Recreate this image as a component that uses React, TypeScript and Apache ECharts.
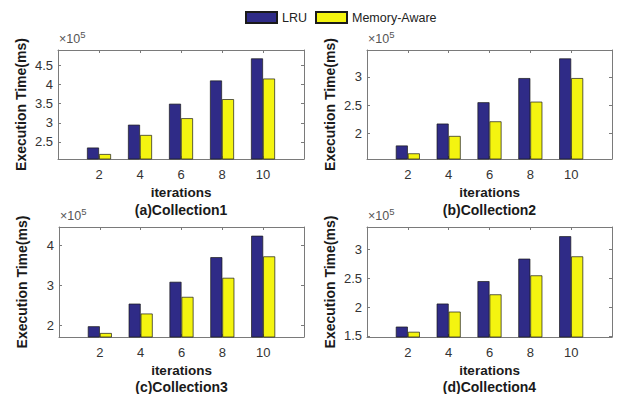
import React, { useEffect, useRef } from "react";
import * as echarts from "echarts";

const iterations = ["2", "4", "6", "8", "10"];
const seriesNames = ["LRU", "Memory-Aware"];

const lru1 = [235000, 295000, 350000, 411000, 469000];
const mem1 = [218000, 268000, 312000, 362000, 416000];
const lru2 = [178000, 217000, 255000, 298000, 333000];
const mem2 = [164000, 195000, 221000, 256000, 298000];
const lru3 = [197000, 254000, 309000, 371000, 425000];
const mem3 = [180000, 229000, 271000, 319000, 373000];
const lru4 = [166000, 206000, 245000, 284000, 323000];
const mem4 = [157000, 192000, 222000, 255000, 288000];

const yTicks1 = [250000, 300000, 350000, 400000, 450000];
const yTicks2 = [200000, 250000, 300000];
const yTicks3 = [200000, 300000, 400000];
const yTicks4 = [150000, 200000, 250000, 300000];

const yRange1 = [205000, 491000];
const yRange2 = [154000, 348000];
const yRange3 = [170000, 447000];
const yRange4 = [148000, 339000];

const titles = ["(a)Collection1", "(b)Collection2", "(c)Collection3", "(d)Collection4"];

const FONT = "'Liberation Sans', Arial, Helvetica, sans-serif";
const AXIS_COLOR = "#7a7a7a";
const LABEL_COLOR = "#333";
const LRU_COLOR = "#2f2b87";
const MEM_COLOR = "#f4f410";

const panels = [
  { lru: lru1, mem: mem1, ticks: yTicks1, range: yRange1, grid: { left: 58, top: 50, width: 246, height: 109 } },
  { lru: lru2, mem: mem2, ticks: yTicks2, range: yRange2, grid: { left: 367, top: 50, width: 245, height: 109 } },
  { lru: lru3, mem: mem3, ticks: yTicks3, range: yRange3, grid: { left: 59, top: 227, width: 245, height: 110 } },
  { lru: lru4, mem: mem4, ticks: yTicks4, range: yRange4, grid: { left: 367, top: 227, width: 245, height: 110 } },
];

export default function App() {
  const ref = useRef<HTMLDivElement>(null);
  useEffect(() => {
    if (!ref.current) return;
    const chart = echarts.init(ref.current, undefined, { renderer: "svg" });
    const cats = ["", ...iterations, ""];
    const pad = (a: number[]) => [null, ...a, null];

    const grids: any[] = [];
    const xAxes: any[] = [];
    const yAxes: any[] = [];
    const series: any[] = [];
    const graphics: any[] = [];

    panels.forEach((p, i) => {
      grids.push({ ...p.grid, show: false, containLabel: false });
      const axisLine = { show: true, onZero: false, lineStyle: { color: AXIS_COLOR, width: 1 } };
      xAxes.push({
        gridIndex: i,
        type: "category",
        data: cats,
        boundaryGap: false,
        position: "bottom",
        axisLine,
        axisTick: { show: true, inside: true, length: 3, lineStyle: { color: AXIS_COLOR } },
        axisLabel: { color: LABEL_COLOR, fontSize: 13, fontFamily: FONT, margin: 9 },
        splitLine: { show: false },
        name: "iterations",
        nameLocation: "middle",
        nameGap: 26,
        nameTextStyle: { color: "#1a1a1a", fontWeight: "bold", fontSize: 13.5, fontFamily: FONT },
      });
      xAxes.push({
        gridIndex: i,
        type: "category",
        data: cats,
        boundaryGap: false,
        position: "top",
        axisLine,
        axisTick: { show: true, inside: true, length: 3, lineStyle: { color: AXIS_COLOR } },
        axisLabel: { show: false },
        splitLine: { show: false },
      });
      yAxes.push({
        gridIndex: i,
        type: "value",
        position: "left",
        min: p.range[0],
        max: p.range[1],
        axisLine,
        axisTick: { show: true, inside: true, length: 3, customValues: p.ticks, lineStyle: { color: AXIS_COLOR } },
        axisLabel: {
          customValues: p.ticks,
          color: LABEL_COLOR,
          fontSize: 13,
          fontFamily: FONT,
          margin: 5,
          formatter: (v: number) => String(Math.round(v / 1000) / 100),
        },
        splitLine: { show: false },
        name: "Execution Time(ms)",
        nameLocation: "middle",
        nameGap: 30,
        nameTextStyle: { color: "#1a1a1a", fontWeight: "bold", fontSize: 14, fontFamily: FONT },
      });
      yAxes.push({
        gridIndex: i,
        type: "value",
        position: "right",
        min: p.range[0],
        max: p.range[1],
        axisLine,
        axisTick: { show: true, inside: true, length: 3, customValues: p.ticks, lineStyle: { color: AXIS_COLOR } },
        axisLabel: { show: false },
        splitLine: { show: false },
      });
      const common = {
        type: "bar",
        xAxisIndex: 2 * i,
        yAxisIndex: 2 * i,
        barWidth: 12,
        barGap: "0%",
        clip: true,
        emphasis: { disabled: true },
      };
      series.push({
        ...common,
        name: seriesNames[0],
        data: pad(p.lru),
        itemStyle: { color: LRU_COLOR, borderColor: "#1a1a1a", borderWidth: 0.7 },
      });
      series.push({
        ...common,
        name: seriesNames[1],
        data: pad(p.mem),
        itemStyle: { color: MEM_COLOR, borderColor: "#1a1a1a", borderWidth: 0.7 },
      });

      const g = p.grid;
      const isTop = i < 2;
      graphics.push({
        type: "text",
        x: g.left + g.width / 2,
        y: isTop ? 209.5 : 387,
        style: {
          text: titles[i],
          fill: "#1a1a1a",
          font: `bold 14px ${FONT}`,
          textAlign: "center",
          textVerticalAlign: "middle",
        },
      });
      graphics.push({
        type: "text",
        x: g.left + 1,
        y: g.top - 2,
        style: {
          text: "×10{s|5}",
          fill: "#555",
          font: `12.5px ${FONT}`,
          textAlign: "left",
          textVerticalAlign: "bottom",
          rich: { s: { fontSize: 9.5, verticalAlign: "top", padding: [0, 0, 9, 0], fill: "#555", fontFamily: FONT } },
        },
      });
    });

    chart.setOption({
      animation: false,
      backgroundColor: "#fff",
      legend: {
        show: true,
        data: seriesNames,
        left: 240,
        top: 6,
        itemWidth: 31,
        itemHeight: 11,
        itemGap: 8,
        icon: "rect",
        textStyle: { color: "#222", fontSize: 12.5, fontFamily: FONT },
        selectedMode: false,
      },
      grid: grids,
      xAxis: xAxes,
      yAxis: yAxes,
      series,
      graphic: graphics,
    });
    return () => chart.dispose();
  }, []);
  return (
    <div
      ref={ref}
      style={{ position: "fixed", left: 0, top: 0, width: 618, height: 394, background: "#fff" }}
    />
  );
}
